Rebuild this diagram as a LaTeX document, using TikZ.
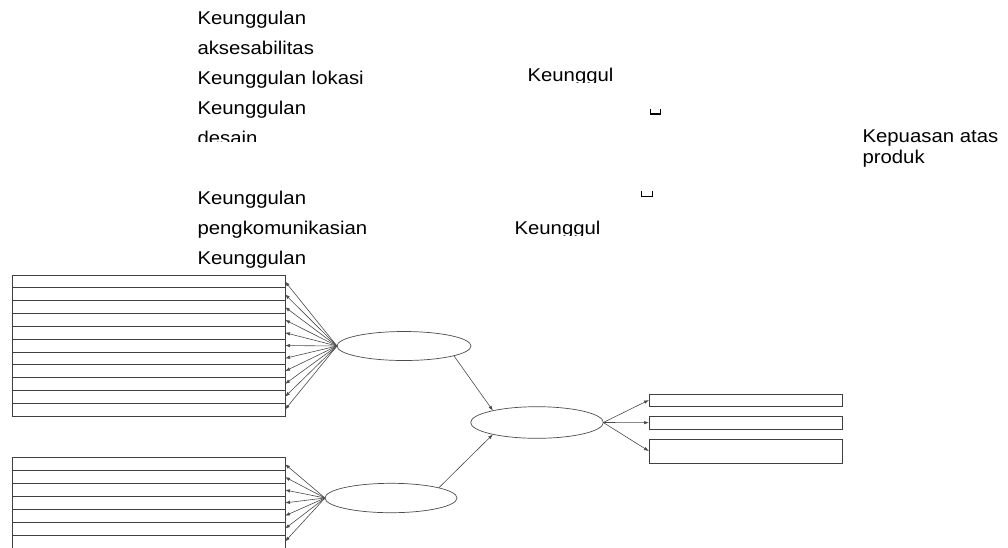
\documentclass[tikz,border=0pt]{standalone}
\usepackage{fontspec}
\setmainfont{Liberation Sans}
\usetikzlibrary{arrows.meta,shapes.geometric}
\newcommand{\tx}[1]{\scalebox{1.1}[1]{\fontsize{18.5}{20}\selectfont #1}}
\tikzset{
  lbl/.style={anchor=base west, inner sep=0pt, outer sep=0pt},
  strip/.style={draw=black!75, line width=0.7pt, rectangle, inner sep=0pt, outer sep=0pt, minimum width=273pt, anchor=north west},
  rbox/.style={draw=black!75, line width=0.7pt, rectangle, inner sep=0pt, outer sep=0pt, minimum width=193.3pt, anchor=north west},
  lat/.style={draw=black!70, line width=0.7pt, ellipse, inner sep=0pt, outer sep=0pt},
  arr/.style={draw=black!70, line width=0.6pt, -{Latex[length=5pt,width=3.5pt]}},
  glyphmark/.style={draw=black, line width=1.1pt}
}
\begin{document}
\begin{tikzpicture}[x=1pt,y=-1pt]
\useasboundingbox (0,0) rectangle (1008,547);
\clip (0,0) rectangle (1008,547);
\fill[white] (0,0) rectangle (1008,547);
% left column texts
\node[lbl] (t1) at (197.5,24) {\tx{Keunggulan}};
\node[lbl] (t2) at (197.5,54) {\tx{aksesabilitas}};
\node[lbl] (t3) at (197.5,84) {\tx{Keunggulan lokasi}};
\node[lbl] (t4) at (197.5,114) {\tx{Keunggulan}};
\begin{scope}
\clip (150,120) rectangle (400,141.7);
\node[lbl] (t5) at (197.5,144.5) {\tx{desain}};
\end{scope}
\node[lbl] (t6) at (197.5,204) {\tx{Keunggulan}};
\node[lbl] (t7) at (197.5,234) {\tx{pengkomunikasian}};
\node[lbl] (t8) at (197.5,264) {\tx{Keunggulan}};
% clipped middle texts
\begin{scope}
\clip (500,55) rectangle (640,82.7);
\node[lbl] (k1) at (527.5,81.2) {\tx{Keunggul}};
\end{scope}
\begin{scope}
\clip (490,210) rectangle (640,235.5);
\node[lbl] (k2) at (514.5,234) {\tx{Keunggul}};
\end{scope}
% small marks
\draw[glyphmark] (650.5,108.5) -- (650.5,114) -- (660.5,114) -- (660.5,108.5);
\draw[glyphmark] (641.5,191) -- (641.5,196.8) -- (652.2,196.8) -- (652.2,191);
% right text
\node[lbl] (kp1) at (862.5,142.9) {\tx{Kepuasan atas}};
\node[lbl] (kp2) at (862.5,163) {\tx{produk}};
% left upper block
\foreach \i in {0,...,10}
  \node[strip, minimum height=12.82pt] (a\i) at (12,275+\i*12.82) {};
% left lower block
\foreach \i in {0,...,6}
  \node[strip, minimum height=12.9pt] (b\i) at (12,457.7+\i*12.9) {};
% latent ellipses
\node[lat, minimum width=134pt, minimum height=29pt] (e1) at (404,346) {};
\node[lat, minimum width=132pt, minimum height=29.4pt] (e2) at (391,498) {};
\node[lat, minimum width=132.6pt, minimum height=31.6pt] (e3) at (537,422.5) {};
% right boxes
\node[rbox, minimum height=12pt] (r1) at (649,394) {};
\node[rbox, minimum height=13.3pt] (r2) at (649,416) {};
\node[rbox, minimum height=24.3pt] (r3) at (649,439) {};
% connectors
\foreach \i in {0,...,10}
  \draw[arr] (e1.west) -- (a\i.east);
\foreach \i in {0,...,6}
  \draw[arr] (e2.west) -- (b\i.east);
\draw[arr] (e1.-11.8) -- (e3.165.7);
\draw[arr] (e2.12.7) -- (e3.-165.1);
\draw[arr] (e3.east) -- (r1.west);
\draw[arr] (e3.east) -- (r2.west);
\draw[arr] (e3.east) -- (r3.west);
\end{tikzpicture}
\end{document}
